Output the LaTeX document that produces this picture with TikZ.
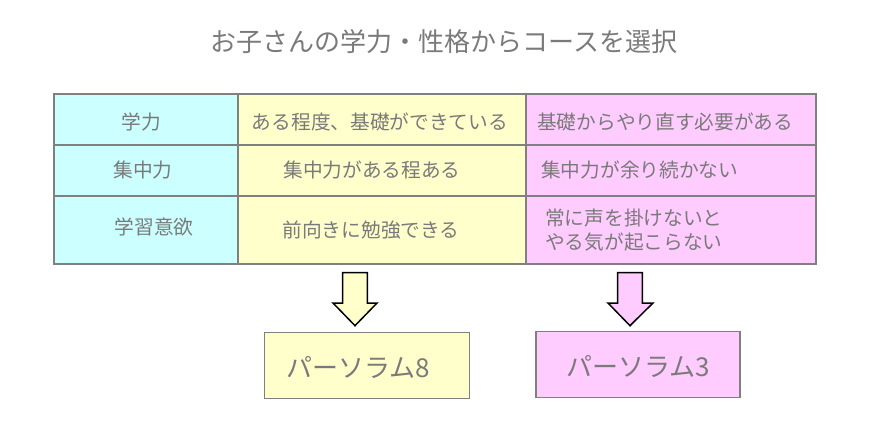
\documentclass[tikz,border=0pt]{standalone}
\usepackage{fontspec}
\newfontfamily\jp{Noto Sans CJK JP}
\definecolor{txt}{HTML}{7A7A7A}
\definecolor{bord}{HTML}{808080}
\definecolor{cyanf}{HTML}{CCFFFF}
\definecolor{yelf}{HTML}{FFFFCC}
\definecolor{pinkf}{HTML}{FFCCFF}
\tikzset{
  celltxt/.style={text=txt,font=\jp\fontsize{19.7}{23}\selectfont,inner sep=0pt},
  boxtxt/.style={text=txt,font=\jp\fontsize{26}{30}\selectfont,inner sep=0pt},
  grid line/.style={draw=bord,line width=1.5pt},
  blockarrow/.style={draw=black,line width=1.5pt,line join=miter},
}
\begin{document}
\begin{tikzpicture}[x=1pt,y=-1pt]
\useasboundingbox (0,0) rectangle (880,420);
% title
\node[text=txt,font=\jp\fontsize{26}{30}\selectfont,inner sep=0pt] (title) at (444,42) {お子さんの学力・性格からコースを選択};
% table fills
\fill[cyanf] (54,94) rectangle (238,264);
\fill[yelf] (238,94) rectangle (526,264);
\fill[pinkf] (526,94) rectangle (816,264);
% grid
\draw[grid line] (54,94) rectangle (816,264);
\draw[grid line] (238,94) -- (238,264);
\draw[grid line] (526,94) -- (526,264);
\draw[grid line] (54,145) -- (816,145);
\draw[grid line] (54,196) -- (816,196);
% column 1
\node[celltxt] (c11) at (141,122) {学力};
\node[celltxt] (c21) at (143,170) {集中力};
\node[celltxt] (c31) at (154,227) {学習意欲};
% column 2
\node[celltxt] (c12) at (380,122) {ある程度、基礎ができている};
\node[celltxt] (c22) at (372,170) {集中力がある程ある};
\node[celltxt] (c32) at (371,230) {前向きに勉強できる};
% column 3
\node[celltxt,anchor=west] (c13) at (537,122) {基礎からやり直す必要がある};
\node[celltxt,anchor=west] (c23) at (541,170) {集中力が余り続かない};
\node[celltxt,anchor=west] (c33a) at (545,218) {常に声を掛けないと};
\node[celltxt,anchor=west] (c33b) at (545,242) {やる気が起こらない};
% arrows
\filldraw[blockarrow,fill=yelf] (342.7,272.7) -- (367.3,272.7) -- (367.3,303) -- (377,303) -- (355,325.7) -- (333,303) -- (342.7,303) -- cycle;
\filldraw[blockarrow,fill=pinkf] (617.7,272.7) -- (642.3,272.7) -- (642.3,303) -- (653,303) -- (630,325.7) -- (608,303) -- (617.7,303) -- cycle;
% result boxes
\filldraw[grid line,fill=yelf] (264.3,332.7) rectangle (469.3,398.7);
\filldraw[grid line,fill=pinkf] (536,331.7) rectangle (740,397.7);
\node[boxtxt] (p8) at (358,367) {パーソラム8};
\node[boxtxt] (p3) at (638,366) {パーソラム3};
\end{tikzpicture}
\end{document}
